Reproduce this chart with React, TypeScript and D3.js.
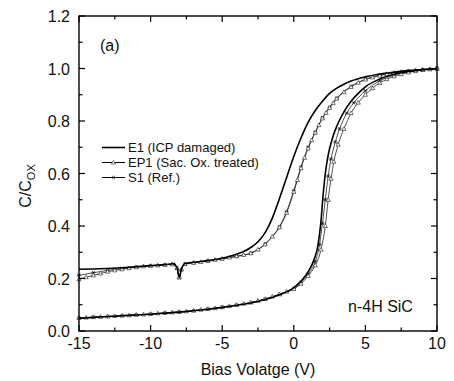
import React from "react";
import * as d3 from "d3";

// upper branches (sweep from inversion toward accumulation)
const e1UpV = [-15, -14, -13, -12, -11, -10, -9, -8.4, -8.15, -8.0, -7.85, -7.6, -7, -6, -5, -4, -3.5, -3, -2.5, -2, -1.5, -1, -0.5, 0, 0.5, 1, 1.5, 2, 2.5, 3, 3.5, 4, 5, 6, 7, 8, 9, 10];
const e1UpC = [0.235, 0.236, 0.238, 0.241, 0.245, 0.249, 0.253, 0.256, 0.24, 0.205, 0.235, 0.257, 0.262, 0.268, 0.277, 0.292, 0.303, 0.318, 0.34, 0.375, 0.43, 0.505, 0.585, 0.665, 0.735, 0.795, 0.84, 0.875, 0.905, 0.925, 0.94, 0.952, 0.968, 0.979, 0.986, 0.992, 0.996, 1.0];

const ep1UpV = [-15, -14.5, -14, -13.5, -13, -12.5, -12, -11.5, -11, -10.5, -10, -9.5, -9, -8.5, -8.15, -8.0, -7.85, -7.6, -7, -6.5, -6, -5.5, -5, -4.5, -4, -3.5, -3, -2.5, -2, -1.5, -1, -0.5, 0, 0.25, 0.5, 0.75, 1, 1.25, 1.5, 1.75, 2, 2.25, 2.5, 2.75, 3, 3.5, 4, 4.5, 5, 5.5, 6, 6.5, 7, 7.5, 8, 8.5, 9, 9.5, 10];
const ep1UpC = [0.197, 0.205, 0.212, 0.219, 0.226, 0.231, 0.235, 0.239, 0.243, 0.246, 0.248, 0.25, 0.252, 0.254, 0.24, 0.205, 0.235, 0.255, 0.26, 0.263, 0.267, 0.271, 0.275, 0.28, 0.285, 0.29, 0.296, 0.31, 0.33, 0.36, 0.395, 0.45, 0.53, 0.575, 0.62, 0.66, 0.695, 0.727, 0.755, 0.784, 0.81, 0.831, 0.85, 0.868, 0.885, 0.91, 0.93, 0.946, 0.958, 0.966, 0.973, 0.979, 0.983, 0.987, 0.99, 0.993, 0.995, 0.998, 1.0];

const s1UpV = [-15, -14, -13, -12, -11, -10, -9, -8.4, -8.15, -8.0, -7.85, -7.6, -7, -6, -5, -4, -3, -2, -1, -0.5, 0, 0.5, 1, 1.5, 2, 2.5, 3, 4, 5, 6, 7, 8, 9, 10];
const s1UpC = [0.212, 0.222, 0.231, 0.238, 0.244, 0.248, 0.252, 0.255, 0.238, 0.202, 0.233, 0.254, 0.259, 0.266, 0.274, 0.284, 0.297, 0.332, 0.398, 0.455, 0.535, 0.625, 0.7, 0.758, 0.812, 0.852, 0.887, 0.932, 0.959, 0.974, 0.984, 0.99, 0.995, 1.0];

// lower branches (deep depletion sweep)
const e1DnV = [-15, -14, -13, -12, -11, -10, -9, -8, -7, -6, -5, -4, -3, -2, -1, 0, 0.5, 1, 1.4, 1.7, 1.9, 2.05, 2.2, 2.4, 2.7, 3, 3.5, 4, 4.5, 5, 6, 7, 8, 9, 10];
const e1DnC = [0.048, 0.052, 0.055, 0.058, 0.061, 0.064, 0.068, 0.072, 0.077, 0.083, 0.09, 0.098, 0.107, 0.12, 0.138, 0.165, 0.19, 0.225, 0.27, 0.33, 0.42, 0.52, 0.6, 0.67, 0.735, 0.78, 0.835, 0.875, 0.905, 0.93, 0.96, 0.978, 0.989, 0.995, 1.0];

const ep1DnV = [-15, -14.5, -14, -13.5, -13, -12.5, -12, -11.5, -11, -10.5, -10, -9.5, -9, -8.5, -8, -7.5, -7, -6.5, -6, -5.5, -5, -4.5, -4, -3.5, -3, -2.5, -2, -1.5, -1, -0.5, 0, 0.5, 1, 1.5, 1.9, 2.2, 2.4, 2.6, 2.8, 3.1, 3.5, 4, 4.5, 5, 5.5, 6, 6.5, 7, 7.5, 8, 8.5, 9, 9.5, 10];
const ep1DnC = [0.05, 0.051, 0.053, 0.054, 0.056, 0.057, 0.059, 0.06, 0.062, 0.063, 0.065, 0.067, 0.069, 0.071, 0.073, 0.075, 0.078, 0.081, 0.084, 0.087, 0.091, 0.095, 0.099, 0.104, 0.109, 0.115, 0.122, 0.131, 0.14, 0.15, 0.16, 0.18, 0.21, 0.25, 0.31, 0.4, 0.5, 0.58, 0.645, 0.71, 0.77, 0.83, 0.87, 0.9, 0.925, 0.945, 0.959, 0.97, 0.978, 0.985, 0.99, 0.994, 0.997, 1.0];

const s1DnV = [-15, -14, -13, -12, -11, -10, -9, -8, -7, -6, -5, -4, -3, -2, -1, 0, 0.5, 1, 1.5, 1.8, 2, 2.2, 2.4, 2.6, 2.9, 3.2, 3.7, 4.2, 5, 6, 7, 8, 9, 10];
const s1DnC = [0.049, 0.052, 0.055, 0.058, 0.061, 0.064, 0.068, 0.072, 0.077, 0.083, 0.09, 0.098, 0.108, 0.121, 0.139, 0.162, 0.185, 0.218, 0.265, 0.33, 0.41, 0.5, 0.59, 0.655, 0.72, 0.77, 0.83, 0.87, 0.915, 0.953, 0.975, 0.988, 0.995, 1.0];

const xTicks = [-15, -10, -5, 0, 5, 10];
const yTicks = [0.0, 0.2, 0.4, 0.6, 0.8, 1.0, 1.2];
const legendLabels = ["E1 (ICP damaged)", "EP1 (Sac. Ox. treated)", "S1 (Ref.)"];

const W = 454;
const H = 381;
const m = { left: 79, right: 437, top: 16, bottom: 331 };
const font = "'Liberation Sans', Arial, sans-serif";

const zip = (xs: number[], ys: number[]) => xs.map((v, i) => [v, ys[i]] as [number, number]);

const tri = (cx: number, cy: number, k: string) => (
  <path key={k} d={`M${cx},${cy - 2.2}L${cx + 2.1},${cy + 1.5}L${cx - 2.1},${cy + 1.5}Z`} fill="white" stroke="#333" strokeWidth={0.7} />
);
const star = (cx: number, cy: number, k: string) => (
  <path key={k} d={`M${cx - 2},${cy}H${cx + 2}M${cx - 1.3},${cy - 1.8}L${cx + 1.3},${cy + 1.8}M${cx + 1.3},${cy - 1.8}L${cx - 1.3},${cy + 1.8}`} stroke="#222" strokeWidth={0.8} fill="none" />
);

export default function App() {
  const x = d3.scaleLinear().domain([-15, 10]).range([m.left, m.right]);
  const y = d3.scaleLinear().domain([0, 1.2]).range([m.bottom, m.top]);
  const line = d3
    .line<[number, number]>()
    .x((d) => x(d[0]))
    .y((d) => y(d[1]))
    .curve(d3.curveMonotoneX);

  const e1Up = zip(e1UpV, e1UpC);
  const e1Dn = zip(e1DnV, e1DnC);
  const ep1Up = zip(ep1UpV, ep1UpC);
  const ep1Dn = zip(ep1DnV, ep1DnC);
  const s1Up = zip(s1UpV, s1UpC);
  const s1Dn = zip(s1DnV, s1DnC);

  const xMinor = d3.range(-15, 10.01, 2.5);
  const yMinor = d3.range(0, 1.201, 0.1);

  return (
    <svg width={W} height={H} style={{ position: "absolute", left: 0, top: 0, background: "white" }} fontFamily={font}>
      {/* curves */}
      <path d={line(s1Up) || ""} fill="none" stroke="#222" strokeWidth={0.8} />
      <path d={line(s1Dn) || ""} fill="none" stroke="#222" strokeWidth={0.8} />
      {s1Up.map((d, i) => star(x(d[0]), y(d[1]), "su" + i))}
      {s1Dn.map((d, i) => star(x(d[0]), y(d[1]), "sd" + i))}
      <path d={line(ep1Up) || ""} fill="none" stroke="#222" strokeWidth={0.8} />
      <path d={line(ep1Dn) || ""} fill="none" stroke="#222" strokeWidth={0.8} />
      {ep1Up.map((d, i) => tri(x(d[0]), y(d[1]), "eu" + i))}
      {ep1Dn.map((d, i) => tri(x(d[0]), y(d[1]), "ed" + i))}
      <path d={line(e1Up) || ""} fill="none" stroke="#000" strokeWidth={1.6} />
      <path d={line(e1Dn) || ""} fill="none" stroke="#000" strokeWidth={1.6} />

      {/* frame */}
      <rect x={m.left} y={m.top} width={m.right - m.left} height={m.bottom - m.top} fill="none" stroke="#000" strokeWidth={1.4} />

      {/* x ticks, inward, bottom and top */}
      {xMinor.map((v) => {
        const major = xTicks.includes(v);
        const len = major ? 6 : 3.5;
        return (
          <g key={"xt" + v} stroke="#000" strokeWidth={1.2}>
            <line x1={x(v)} x2={x(v)} y1={m.bottom} y2={m.bottom - len} />
            <line x1={x(v)} x2={x(v)} y1={m.top} y2={m.top + len} />
          </g>
        );
      })}
      {yMinor.map((v, i) => {
        const major = i % 2 === 0;
        const len = major ? 6 : 3.5;
        return (
          <g key={"yt" + i} stroke="#000" strokeWidth={1.2}>
            <line x1={m.left} x2={m.left + len} y1={y(v)} y2={y(v)} />
            <line x1={m.right} x2={m.right - len} y1={y(v)} y2={y(v)} />
          </g>
        );
      })}

      {xTicks.map((v) => (
        <text key={"xl" + v} x={x(v)} y={349} fontSize={16} textAnchor="middle" fill="#111">
          {v}
        </text>
      ))}
      {yTicks.map((v) => (
        <text key={"yl" + v} x={70} y={y(v) + 6} fontSize={16} textAnchor="end" fill="#111">
          {v.toFixed(1)}
        </text>
      ))}

      <text x={(m.left + m.right) / 2} y={375} fontSize={16} textAnchor="middle" fill="#111">
        Bias Volatge (V)
      </text>
      <text transform="translate(31,186) rotate(-90)" fontSize={16} textAnchor="middle" fill="#111">
        C/C<tspan fontSize={11} dy={4}>OX</tspan>
      </text>

      <text x={100} y={51} fontSize={16} fill="#111">(a)</text>
      <text x={348} y={312} fontSize={16} fill="#111">n-4H SiC</text>

      {/* legend */}
      {legendLabels.map((lab, i) => {
        const cy = 147.5 + i * 15;
        return (
          <g key={"lg" + i}>
            <line x1={102} x2={125} y1={cy} y2={cy} stroke="#000" strokeWidth={i === 0 ? 1.6 : 1} />
            {i === 1 && tri(113.5, cy, "lt")}
            {i === 2 && star(113.5, cy, "ls")}
            <text x={128} y={cy + 4.5} fontSize={13} fill="#111">
              {lab}
            </text>
          </g>
        );
      })}
    </svg>
  );
}
